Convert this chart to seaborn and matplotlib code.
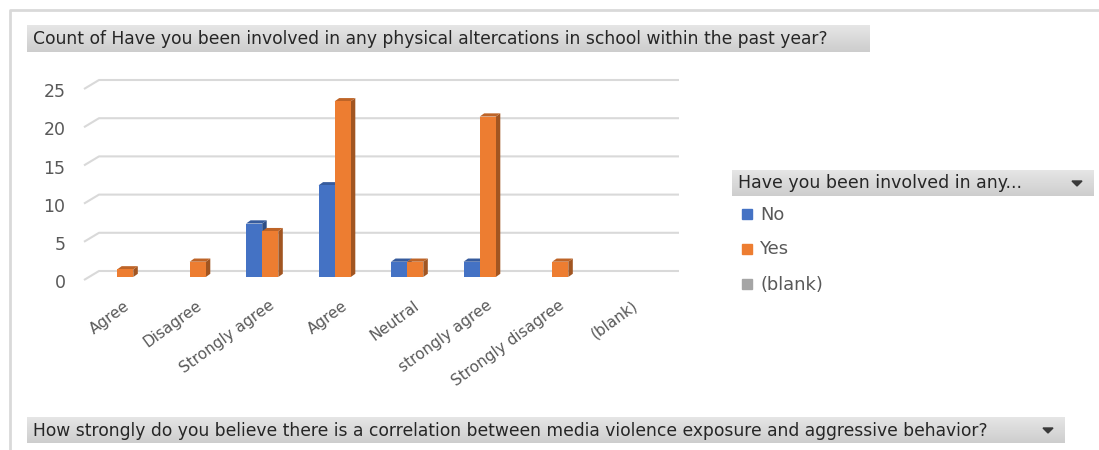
import matplotlib
matplotlib.use("Agg")
import numpy as np
import pandas as pd
import matplotlib.pyplot as plt
import seaborn as sns
from matplotlib.patches import Polygon, Rectangle
from matplotlib.colors import LinearSegmentedColormap, to_rgb
from matplotlib import transforms as mtransforms

# ---- data -------------------------------------------------------------
categories = ["Agree", "Disagree", "Strongly agree", "Agree", "Neutral",
              "strongly agree", "Strongly disagree", "(blank)"]
series = ["No", "Yes", "(blank)"]
no_counts = [0, 0, 7, 12, 2, 2, 0, 0]
yes_counts = [1, 2, 6, 23, 2, 21, 2, 0]
blank_counts = [0, 0, 0, 0, 0, 0, 0, 0]
y_ticks = [0, 5, 10, 15, 20, 25]
series_colors = ["#4472C4", "#ED7D31", "#A5A5A5"]

chart_title = "Count of Have you been involved in any physical altercations in school within the past year?"
legend_title = "Have you been involved in any..."
axis_field = ("How strongly do you believe there is a correlation between "
              "media violence exposure and aggressive behavior?")

# long-form table; slots keep the two "Agree" rows apart
slots = [f"s{i}" for i in range(len(categories))]
rows = []
for name, vals in zip(series, [no_counts, yes_counts, blank_counts]):
    for s, v in zip(slots, vals):
        rows.append({"slot": s, "series": name, "count": v})
df = pd.DataFrame(rows)
palette = dict(zip(series, series_colors))

# ---- style ------------------------------------------------------------
sns.set_theme(style="white")
plt.rcParams["font.family"] = ["DejaVu Sans"]
TICK_GRAY = "#595959"
W, H = 1099, 450
fig = plt.figure(figsize=(W / 100, H / 100), dpi=100)
fig.patch.set_facecolor("white")

# overlay in pixel coordinates for frame, header boxes and legend
ov = fig.add_axes([0, 0, 1, 1], zorder=0)
ov.set_xlim(0, W)
ov.set_ylim(H, 0)
ov.axis("off")

# outer chart frame
ov.plot([10, 10, W + 5], [H + 5, 10, 10], color="#D9D9D9", lw=2, solid_capstyle="butt")

gray_grad = LinearSegmentedColormap.from_list("hdr", ["#E6E6E6", "#CDCDCD"])
grad = np.linspace(0, 1, 64).reshape(-1, 1)


def header_box(x0, x1, y0, y1, text, arrow=False, size=10.5):
    ov.imshow(grad, cmap=gray_grad, aspect="auto", extent=(x0, x1, y1, y0),
              interpolation="bilinear", zorder=1)
    ov.text(x0 + 6, (y0 + y1) / 2 + 0.5, text, ha="left", va="center",
            fontsize=size, color="#262626", zorder=2)
    if arrow:
        ax_ = x1 - 17
        cy = (y0 + y1) / 2
        ov.add_patch(Polygon([(ax_ - 5, cy - 2), (ax_ + 5, cy - 2), (ax_, cy + 3)],
                             closed=True, color="#3A3A3A", zorder=2))


header_box(27, 870, 25, 52, chart_title, size=12.3)
header_box(27, 1065, 417, 443, axis_field, arrow=True, size=12.3)
header_box(732, 1094, 170, 196, legend_title, arrow=True, size=12.5)

# legend entries
for i, (name, col) in enumerate(zip(series, series_colors)):
    cy = 214 + 35 * i
    ov.add_patch(Rectangle((742, cy - 5), 10, 10, color=col, zorder=2))
    ov.text(760, cy + 0.5, name, ha="left", va="center", fontsize=12.9,
            color=TICK_GRAY, zorder=2)

# ---- main chart -------------------------------------------------------
x_left, x_right = 89, 669      # column plane, pixels
y_zero, y_top = 277, 86         # value 0 and 25, pixels from top
ax = fig.add_axes([x_left / W, (H - y_zero) / H, (x_right - x_left) / W,
                   (y_zero - y_top) / H], zorder=2)
ax.patch.set_alpha(0)

sns.barplot(data=df, x="slot", y="count", hue="series", order=slots,
            hue_order=series, palette=palette, width=3 / 4.5, gap=0,
            saturation=1, errorbar=None, legend=False, linewidth=0, ax=ax)

ax.set_xlim(-0.5, len(slots) - 0.5)
ax.set_ylim(y_ticks[0], y_ticks[-1])

px_x = (x_right - x_left) / len(slots)
px_y = (y_zero - y_top) / (y_ticks[-1] - y_ticks[0])

# gridlines: short floor-edge step in front, then along the back wall
front_dx, front_dy = -5 / px_x, -3 / px_y
wall_dx, wall_dy = 10 / px_x, 6 / px_y
for t in y_ticks:
    ax.plot([-0.5 + front_dx, -0.5 + wall_dx, len(slots) - 0.5 + wall_dx],
            [t + front_dy, t + wall_dy, t + wall_dy], color="#D9D9D9", lw=1.5,
            clip_on=False, zorder=0.5, solid_capstyle="butt")


def shade(c, f):
    r, g, b = to_rgb(c)
    return (r * f, g * f, b * f)


# extrude each column into a block
ext_dx, ext_dy = 4.5 / px_x, 3.2 / px_y
bars = sorted([p for p in ax.patches], key=lambda p: p.get_x())
for i, bar in enumerate(bars):
    h = bar.get_height()
    z = 3 + i * 0.1
    bar.set_zorder(z)
    if h <= 0:
        continue
    x, w = bar.get_x(), bar.get_width()
    fc = bar.get_facecolor()
    side = Polygon([(x + w, 0), (x + w + ext_dx, ext_dy),
                    (x + w + ext_dx, h + ext_dy), (x + w, h)],
                   closed=True, facecolor=shade(fc, 0.68), edgecolor="none",
                   zorder=z - 0.05)
    top = Polygon([(x, h), (x + ext_dx, h + ext_dy),
                   (x + w + ext_dx, h + ext_dy), (x + w, h)],
                  closed=True, facecolor=shade(fc, 0.8), edgecolor="none",
                  zorder=z - 0.04)
    ax.add_patch(side)
    ax.add_patch(top)

sns.despine(ax=ax, left=True, bottom=True)
ax.set_xlabel("")
ax.set_ylabel("")
ax.set_yticks(y_ticks)
ax.set_yticklabels([str(t) for t in y_ticks])
ax.tick_params(axis="y", length=0, pad=17, labelsize=12.5, labelcolor=TICK_GRAY)
y_shift = mtransforms.ScaledTranslation(0, -3 / 72, fig.dpi_scale_trans)
for lab in ax.get_yticklabels():
    lab.set_transform(lab.get_transform() + y_shift)

ax.set_xticks(range(len(slots)))
ax.set_xticklabels(categories, rotation=36, ha="right", va="center",
                   rotation_mode="anchor")
ax.tick_params(axis="x", length=0, pad=19.5, labelsize=11, labelcolor=TICK_GRAY)
x_shift = mtransforms.ScaledTranslation(2 / 72, 0, fig.dpi_scale_trans)
for lab in ax.get_xticklabels():
    lab.set_transform(lab.get_transform() + x_shift)
ax.grid(False)

fig.savefig("out.png", dpi=100, facecolor="white")
